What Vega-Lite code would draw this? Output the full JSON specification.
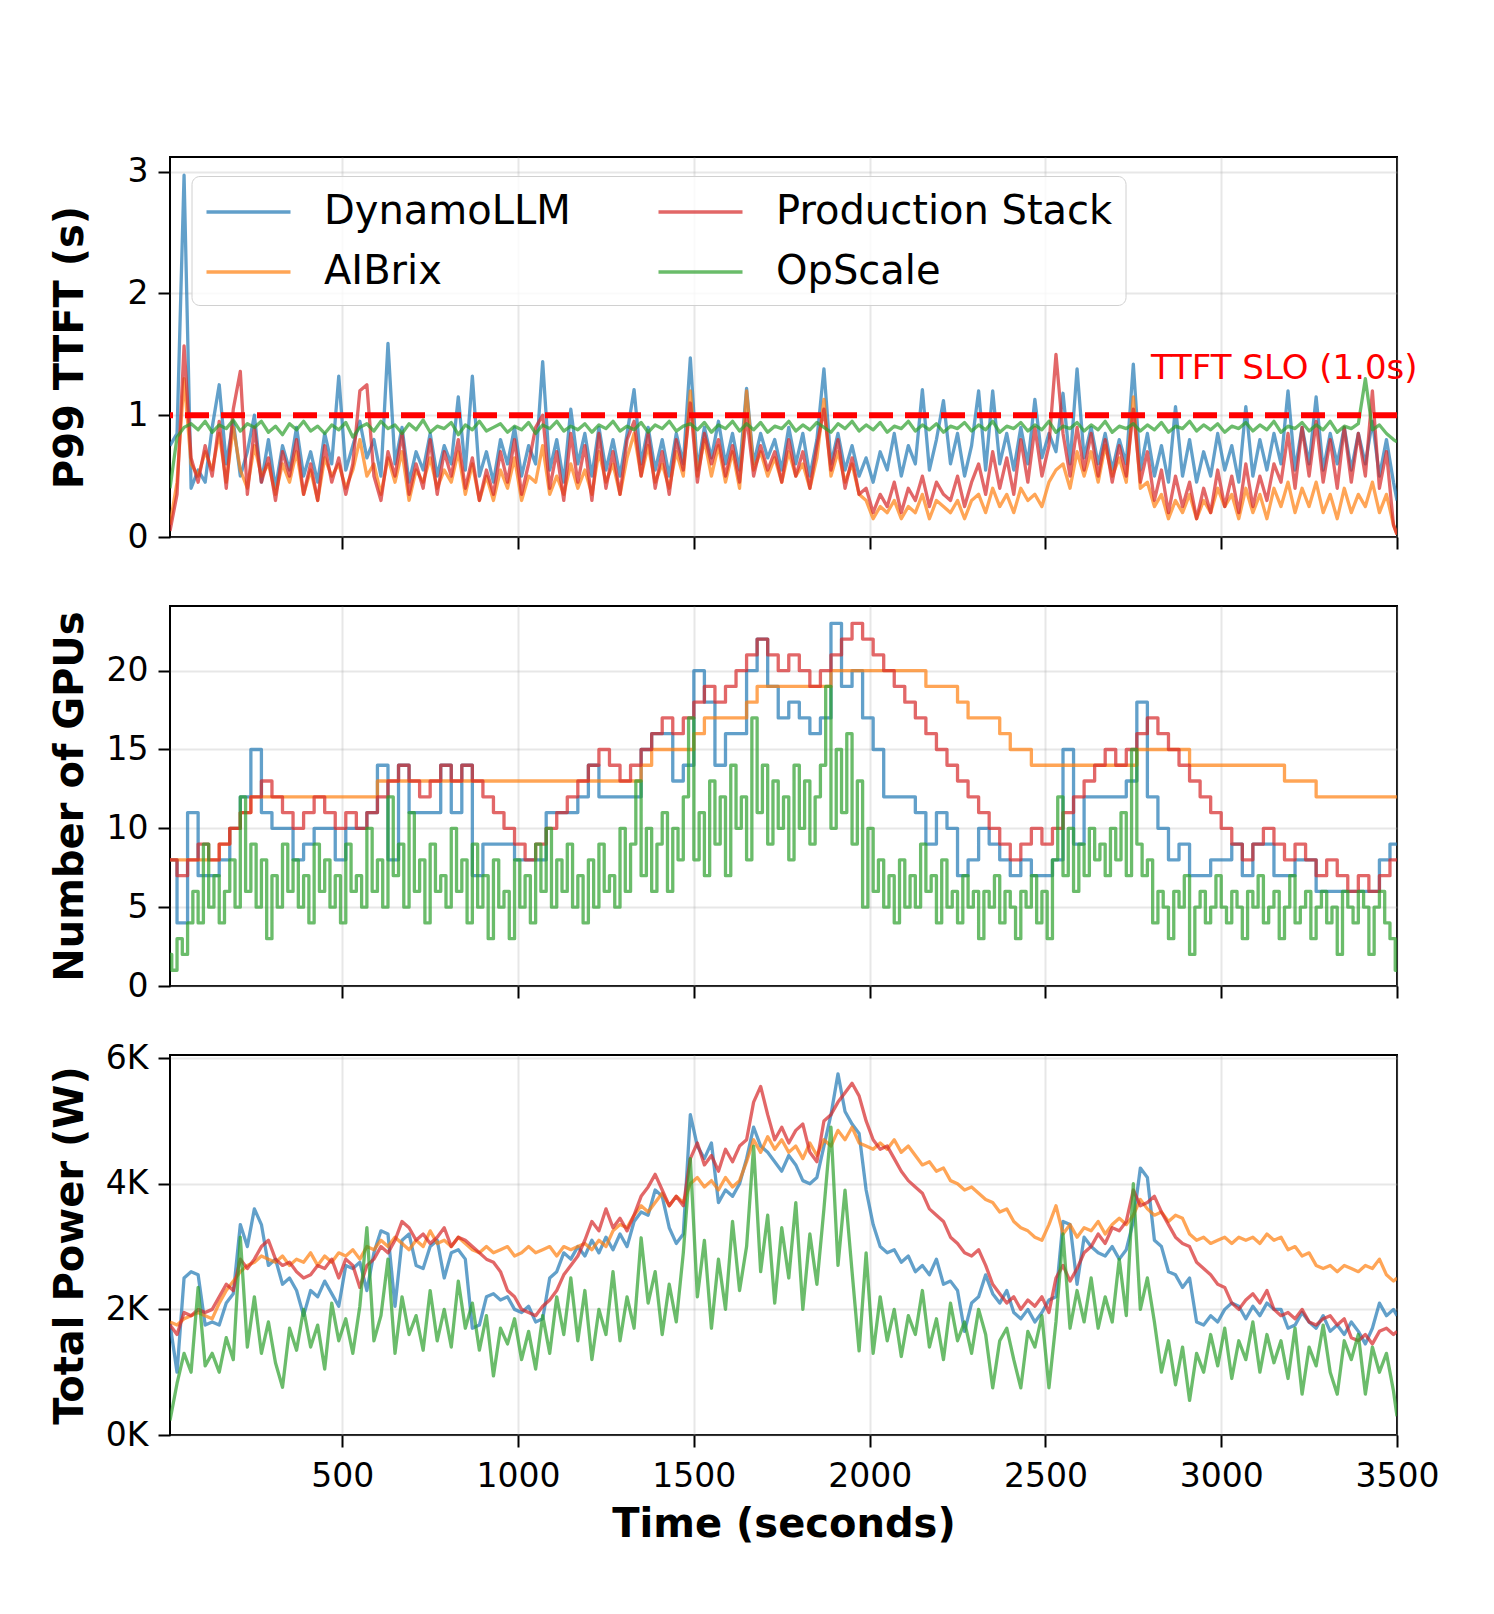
{
  "$schema": "https://vega.github.io/schema/vega-lite/v6.json",
  "padding": {"left": 48, "top": 154, "right": 20, "bottom": 20},
  "config": {
    "font": "DejaVu Sans",
    "view": {"stroke": "#000000", "strokeWidth": 2},
    "axis": {
      "labelFont": "DejaVu Sans", "labelFontSize": 33, "labelColor": "#000000", "labelFlush": false,
      "tickColor": "#000000", "tickWidth": 2, "tickSize": 12, "domain": false,
      "gridColor": "#b0b0b0", "gridOpacity": 0.3, "gridWidth": 2,
      "titleFont": "DejaVu Sans", "titleFontSize": 40, "titleFontWeight": "bold", "titleColor": "#000000"
    },
    "axisX": {"labelPadding": 13, "format": "d"},
    "axisY": {"labelPadding": 10, "format": "d"},
    "line": {"strokeWidth": 3.3, "opacity": 0.7, "strokeJoin": "round"}
  },
  "datasets": {
    "ttft": [
      {"t":10,"D":0.75,"A":0.1,"P":0.05,"O":0.4},
      {"t":30,"D":0.85,"A":0.45,"P":0.35,"O":0.82},
      {"t":50,"D":2.97,"A":1.3,"P":1.57,"O":0.9},
      {"t":70,"D":0.4,"A":0.6,"P":0.65,"O":0.93},
      {"t":90,"D":0.55,"A":0.5,"P":0.45,"O":0.88},
      {"t":110,"D":0.45,"A":0.7,"P":0.75,"O":0.95},
      {"t":130,"D":0.9,"A":0.55,"P":0.5,"O":0.86},
      {"t":150,"D":1.25,"A":0.85,"P":0.95,"O":0.92},
      {"t":170,"D":0.6,"A":0.45,"P":0.4,"O":0.89},
      {"t":190,"D":0.95,"A":0.9,"P":1.05,"O":0.96},
      {"t":210,"D":0.5,"A":0.55,"P":1.36,"O":0.87},
      {"t":230,"D":0.7,"A":0.4,"P":0.35,"O":0.93},
      {"t":250,"D":1.0,"A":0.75,"P":0.9,"O":0.9},
      {"t":270,"D":0.45,"A":0.5,"P":0.45,"O":0.95},
      {"t":290,"D":0.8,"A":0.6,"P":0.65,"O":0.86},
      {"t":310,"D":0.4,"A":0.35,"P":0.3,"O":0.91},
      {"t":330,"D":0.75,"A":0.6,"P":0.7,"O":0.84},
      {"t":350,"D":0.55,"A":0.45,"P":0.5,"O":0.93},
      {"t":370,"D":0.9,"A":0.7,"P":0.8,"O":0.88},
      {"t":390,"D":0.5,"A":0.35,"P":0.35,"O":0.95},
      {"t":410,"D":0.7,"A":0.55,"P":0.6,"O":0.87},
      {"t":430,"D":0.45,"A":0.3,"P":0.3,"O":0.91},
      {"t":450,"D":0.85,"A":0.65,"P":0.75,"O":0.85},
      {"t":470,"D":0.6,"A":0.5,"P":0.45,"O":0.92},
      {"t":490,"D":1.32,"A":0.6,"P":0.65,"O":0.88},
      {"t":510,"D":0.55,"A":0.4,"P":0.35,"O":0.94},
      {"t":530,"D":0.75,"A":0.55,"P":0.6,"O":0.82},
      {"t":550,"D":0.95,"A":0.8,"P":1.2,"O":0.9},
      {"t":570,"D":0.65,"A":0.5,"P":1.25,"O":0.93},
      {"t":590,"D":0.8,"A":0.6,"P":0.5,"O":0.87},
      {"t":610,"D":0.5,"A":0.35,"P":0.3,"O":0.95},
      {"t":630,"D":1.59,"A":0.65,"P":0.7,"O":0.89},
      {"t":650,"D":0.6,"A":0.45,"P":0.5,"O":0.92},
      {"t":670,"D":0.9,"A":0.7,"P":0.85,"O":0.85},
      {"t":690,"D":0.45,"A":0.3,"P":0.35,"O":0.93},
      {"t":710,"D":0.7,"A":0.55,"P":0.6,"O":0.88},
      {"t":730,"D":0.55,"A":0.45,"P":0.4,"O":0.96},
      {"t":750,"D":0.85,"A":0.65,"P":0.8,"O":0.86},
      {"t":770,"D":0.5,"A":0.4,"P":0.35,"O":0.91},
      {"t":790,"D":0.75,"A":0.55,"P":0.7,"O":0.89},
      {"t":810,"D":0.6,"A":0.45,"P":0.5,"O":0.94},
      {"t":830,"D":1.15,"A":0.7,"P":0.8,"O":0.84},
      {"t":850,"D":0.55,"A":0.35,"P":0.4,"O":0.92},
      {"t":870,"D":1.32,"A":0.6,"P":0.65,"O":0.88},
      {"t":890,"D":0.5,"A":0.3,"P":0.3,"O":0.95},
      {"t":910,"D":0.7,"A":0.5,"P":0.55,"O":0.87},
      {"t":930,"D":0.45,"A":0.3,"P":0.35,"O":0.9},
      {"t":950,"D":0.8,"A":0.55,"P":0.7,"O":0.93},
      {"t":970,"D":0.6,"A":0.4,"P":0.45,"O":0.86},
      {"t":990,"D":0.9,"A":0.65,"P":0.8,"O":0.91},
      {"t":1010,"D":0.5,"A":0.3,"P":0.35,"O":0.88},
      {"t":1030,"D":0.75,"A":0.5,"P":0.6,"O":0.94},
      {"t":1050,"D":0.6,"A":0.45,"P":0.9,"O":0.85},
      {"t":1070,"D":1.44,"A":0.75,"P":1.0,"O":0.92},
      {"t":1090,"D":0.55,"A":0.35,"P":0.4,"O":0.89},
      {"t":1110,"D":0.8,"A":0.5,"P":0.7,"O":0.95},
      {"t":1130,"D":0.45,"A":0.35,"P":0.3,"O":0.87},
      {"t":1150,"D":1.05,"A":0.6,"P":0.85,"O":0.91},
      {"t":1170,"D":0.6,"A":0.4,"P":0.45,"O":0.88},
      {"t":1190,"D":0.85,"A":0.55,"P":0.75,"O":0.93},
      {"t":1210,"D":0.5,"A":0.35,"P":0.3,"O":0.86},
      {"t":1230,"D":0.9,"A":0.7,"P":0.85,"O":0.92},
      {"t":1250,"D":0.55,"A":0.45,"P":0.4,"O":0.89},
      {"t":1270,"D":0.8,"A":0.6,"P":0.7,"O":0.95},
      {"t":1290,"D":0.5,"A":0.35,"P":0.35,"O":0.87},
      {"t":1310,"D":0.85,"A":0.65,"P":0.8,"O":0.91},
      {"t":1330,"D":1.21,"A":0.85,"P":0.95,"O":0.88},
      {"t":1350,"D":0.6,"A":0.5,"P":0.5,"O":0.94},
      {"t":1370,"D":0.9,"A":0.75,"P":0.85,"O":0.86},
      {"t":1390,"D":0.55,"A":0.45,"P":0.4,"O":0.92},
      {"t":1410,"D":0.8,"A":0.6,"P":0.7,"O":0.89},
      {"t":1430,"D":0.5,"A":0.4,"P":0.35,"O":0.95},
      {"t":1450,"D":0.85,"A":0.7,"P":0.8,"O":0.87},
      {"t":1470,"D":0.6,"A":0.5,"P":0.55,"O":0.91},
      {"t":1490,"D":1.47,"A":1.2,"P":1.1,"O":0.93},
      {"t":1510,"D":0.55,"A":0.5,"P":0.45,"O":0.88},
      {"t":1530,"D":0.9,"A":0.8,"P":0.85,"O":0.94},
      {"t":1550,"D":0.65,"A":0.5,"P":0.6,"O":0.86},
      {"t":1570,"D":0.95,"A":0.75,"P":0.8,"O":0.92},
      {"t":1590,"D":0.6,"A":0.45,"P":0.5,"O":0.89},
      {"t":1610,"D":0.85,"A":0.7,"P":0.75,"O":0.95},
      {"t":1630,"D":0.55,"A":0.4,"P":0.45,"O":0.87},
      {"t":1650,"D":1.22,"A":1.2,"P":1.0,"O":0.93},
      {"t":1670,"D":0.6,"A":0.55,"P":0.5,"O":0.88},
      {"t":1690,"D":0.85,"A":0.7,"P":0.75,"O":0.94},
      {"t":1710,"D":0.65,"A":0.5,"P":0.55,"O":0.86},
      {"t":1730,"D":0.8,"A":0.65,"P":0.7,"O":0.91},
      {"t":1750,"D":0.55,"A":0.45,"P":0.45,"O":0.89},
      {"t":1770,"D":0.9,"A":0.7,"P":0.8,"O":0.95},
      {"t":1790,"D":0.6,"A":0.5,"P":0.5,"O":0.87},
      {"t":1810,"D":0.85,"A":0.6,"P":0.7,"O":0.92},
      {"t":1830,"D":0.5,"A":0.4,"P":0.4,"O":0.88},
      {"t":1850,"D":0.8,"A":0.65,"P":0.75,"O":0.94},
      {"t":1870,"D":1.38,"A":1.13,"P":1.05,"O":0.9},
      {"t":1890,"D":0.6,"A":0.5,"P":0.55,"O":0.86},
      {"t":1910,"D":0.85,"A":0.7,"P":0.8,"O":0.93},
      {"t":1930,"D":0.55,"A":0.45,"P":0.4,"O":0.89},
      {"t":1950,"D":0.75,"A":0.6,"P":0.65,"O":0.95},
      {"t":1970,"D":0.5,"A":0.35,"P":0.35,"O":0.87},
      {"t":1990,"D":0.65,"A":0.3,"P":0.4,"O":0.92},
      {"t":2010,"D":0.45,"A":0.15,"P":0.2,"O":0.88},
      {"t":2030,"D":0.7,"A":0.25,"P":0.35,"O":0.94},
      {"t":2050,"D":0.55,"A":0.2,"P":0.25,"O":0.86},
      {"t":2070,"D":0.85,"A":0.3,"P":0.45,"O":0.91},
      {"t":2090,"D":0.5,"A":0.15,"P":0.2,"O":0.89},
      {"t":2110,"D":0.75,"A":0.25,"P":0.4,"O":0.95},
      {"t":2130,"D":0.6,"A":0.2,"P":0.3,"O":0.87},
      {"t":2150,"D":1.21,"A":0.35,"P":0.5,"O":0.92},
      {"t":2170,"D":0.55,"A":0.15,"P":0.25,"O":0.88},
      {"t":2190,"D":0.8,"A":0.3,"P":0.45,"O":0.93},
      {"t":2210,"D":1.12,"A":0.25,"P":0.35,"O":0.86},
      {"t":2230,"D":0.6,"A":0.2,"P":0.3,"O":0.91},
      {"t":2250,"D":0.85,"A":0.3,"P":0.5,"O":0.89},
      {"t":2270,"D":0.5,"A":0.15,"P":0.25,"O":0.94},
      {"t":2290,"D":0.75,"A":0.3,"P":0.45,"O":0.87},
      {"t":2310,"D":1.2,"A":0.35,"P":0.6,"O":0.92},
      {"t":2330,"D":0.55,"A":0.2,"P":0.35,"O":0.88},
      {"t":2350,"D":1.2,"A":0.4,"P":0.7,"O":0.95},
      {"t":2370,"D":0.6,"A":0.25,"P":0.4,"O":0.86},
      {"t":2390,"D":0.85,"A":0.35,"P":0.65,"O":0.91},
      {"t":2410,"D":0.55,"A":0.2,"P":0.35,"O":0.89},
      {"t":2430,"D":0.9,"A":0.4,"P":0.8,"O":0.94},
      {"t":2450,"D":0.6,"A":0.3,"P":0.45,"O":0.87},
      {"t":2470,"D":1.13,"A":0.35,"P":0.9,"O":0.92},
      {"t":2490,"D":0.65,"A":0.25,"P":0.5,"O":0.88},
      {"t":2510,"D":0.85,"A":0.45,"P":0.75,"O":0.95},
      {"t":2530,"D":0.7,"A":0.55,"P":1.5,"O":0.86},
      {"t":2550,"D":1.18,"A":0.6,"P":0.85,"O":0.91},
      {"t":2570,"D":0.6,"A":0.4,"P":0.5,"O":0.89},
      {"t":2590,"D":1.38,"A":0.7,"P":0.9,"O":0.94},
      {"t":2610,"D":0.65,"A":0.5,"P":0.55,"O":0.87},
      {"t":2630,"D":0.9,"A":0.7,"P":0.85,"O":0.92},
      {"t":2650,"D":0.6,"A":0.45,"P":0.5,"O":0.88},
      {"t":2670,"D":0.85,"A":0.75,"P":0.8,"O":0.95},
      {"t":2690,"D":0.55,"A":0.5,"P":0.45,"O":0.86},
      {"t":2710,"D":0.8,"A":0.65,"P":0.75,"O":0.91},
      {"t":2730,"D":0.6,"A":0.45,"P":0.5,"O":0.89},
      {"t":2750,"D":1.42,"A":1.15,"P":1.05,"O":0.93},
      {"t":2770,"D":0.55,"A":0.4,"P":0.45,"O":0.87},
      {"t":2790,"D":0.85,"A":0.45,"P":0.7,"O":0.92},
      {"t":2810,"D":0.5,"A":0.25,"P":0.3,"O":0.88},
      {"t":2830,"D":0.75,"A":0.35,"P":0.55,"O":0.94},
      {"t":2850,"D":0.45,"A":0.15,"P":0.2,"O":0.86},
      {"t":2870,"D":1.07,"A":0.3,"P":0.5,"O":0.91},
      {"t":2890,"D":0.5,"A":0.2,"P":0.25,"O":0.89},
      {"t":2910,"D":0.8,"A":0.35,"P":0.45,"O":0.95},
      {"t":2930,"D":0.45,"A":0.15,"P":0.15,"O":0.87},
      {"t":2950,"D":0.7,"A":0.3,"P":0.4,"O":0.92},
      {"t":2970,"D":0.5,"A":0.2,"P":0.2,"O":0.88},
      {"t":2990,"D":0.85,"A":0.4,"P":0.55,"O":0.93},
      {"t":3010,"D":0.55,"A":0.25,"P":0.25,"O":0.86},
      {"t":3030,"D":0.75,"A":0.35,"P":0.5,"O":0.91},
      {"t":3050,"D":0.45,"A":0.15,"P":0.2,"O":0.89},
      {"t":3070,"D":1.07,"A":0.4,"P":0.6,"O":0.94},
      {"t":3090,"D":0.5,"A":0.2,"P":0.25,"O":0.87},
      {"t":3110,"D":0.8,"A":0.35,"P":0.5,"O":0.92},
      {"t":3130,"D":0.55,"A":0.15,"P":0.3,"O":0.88},
      {"t":3150,"D":0.85,"A":0.4,"P":0.6,"O":0.95},
      {"t":3170,"D":0.6,"A":0.25,"P":0.45,"O":0.86},
      {"t":3190,"D":1.2,"A":0.45,"P":0.85,"O":0.91},
      {"t":3210,"D":0.55,"A":0.2,"P":0.4,"O":0.89},
      {"t":3230,"D":0.9,"A":0.4,"P":0.9,"O":0.94},
      {"t":3250,"D":0.6,"A":0.25,"P":0.5,"O":0.87},
      {"t":3270,"D":1.15,"A":0.45,"P":0.95,"O":0.92},
      {"t":3290,"D":0.55,"A":0.2,"P":0.45,"O":0.88},
      {"t":3310,"D":0.85,"A":0.35,"P":0.8,"O":0.95},
      {"t":3330,"D":0.6,"A":0.15,"P":0.4,"O":0.86},
      {"t":3350,"D":0.9,"A":0.4,"P":0.9,"O":0.91},
      {"t":3370,"D":0.55,"A":0.2,"P":0.45,"O":0.89},
      {"t":3390,"D":0.85,"A":0.35,"P":0.85,"O":0.93},
      {"t":3410,"D":0.6,"A":0.25,"P":0.5,"O":1.3},
      {"t":3430,"D":0.95,"A":0.45,"P":1.2,"O":0.88},
      {"t":3450,"D":0.5,"A":0.2,"P":0.4,"O":0.92},
      {"t":3470,"D":0.8,"A":0.35,"P":0.7,"O":0.85},
      {"t":3490,"D":0.45,"A":0.1,"P":0.1,"O":0.8},
      {"t":3500,"D":0.3,"A":0.02,"P":0.02,"O":0.78}
    ],
    "gpu": [
      {"t":10,"D":8,"A":8,"P":8,"O":2},{"t":15,"D":8,"A":8,"P":8,"O":1},
      {"t":30,"D":4,"A":8,"P":7,"O":3},{"t":45,"D":4,"A":8,"P":7,"O":2},
      {"t":60,"D":11,"A":8,"P":8,"O":4},{"t":75,"D":11,"A":8,"P":8,"O":6},
      {"t":90,"D":7,"A":8,"P":9,"O":4},{"t":105,"D":7,"A":8,"P":9,"O":9},
      {"t":120,"D":7,"A":8,"P":8,"O":5},{"t":135,"D":7,"A":8,"P":8,"O":7},
      {"t":150,"D":8,"A":9,"P":9,"O":4},{"t":165,"D":8,"A":9,"P":9,"O":6},
      {"t":180,"D":10,"A":10,"P":10,"O":8},{"t":195,"D":10,"A":10,"P":10,"O":5},
      {"t":210,"D":12,"A":11,"P":11,"O":12},{"t":225,"D":12,"A":11,"P":11,"O":6},
      {"t":240,"D":15,"A":12,"P":12,"O":9},{"t":255,"D":15,"A":12,"P":12,"O":5},
      {"t":270,"D":11,"A":12,"P":13,"O":8},{"t":285,"D":11,"A":12,"P":13,"O":3},
      {"t":300,"D":10,"A":12,"P":12,"O":7},{"t":315,"D":10,"A":12,"P":12,"O":5},
      {"t":330,"D":10,"A":12,"P":11,"O":9},{"t":345,"D":10,"A":12,"P":11,"O":6},
      {"t":360,"D":8,"A":12,"P":10,"O":8},{"t":375,"D":8,"A":12,"P":10,"O":5},
      {"t":390,"D":9,"A":12,"P":11,"O":7},{"t":405,"D":9,"A":12,"P":11,"O":4},
      {"t":420,"D":10,"A":12,"P":12,"O":9},{"t":435,"D":10,"A":12,"P":12,"O":6},
      {"t":450,"D":10,"A":12,"P":11,"O":8},{"t":465,"D":10,"A":12,"P":11,"O":5},
      {"t":480,"D":8,"A":12,"P":10,"O":7},{"t":495,"D":8,"A":12,"P":10,"O":4},
      {"t":510,"D":10,"A":12,"P":11,"O":9},{"t":525,"D":10,"A":12,"P":11,"O":6},
      {"t":540,"D":10,"A":12,"P":10,"O":7},{"t":555,"D":10,"A":12,"P":10,"O":5},
      {"t":570,"D":11,"A":12,"P":11,"O":10},{"t":585,"D":11,"A":12,"P":11,"O":6},
      {"t":600,"D":14,"A":13,"P":12,"O":8},{"t":615,"D":14,"A":13,"P":12,"O":5},
      {"t":630,"D":8,"A":13,"P":13,"O":12},{"t":645,"D":8,"A":13,"P":13,"O":7},
      {"t":660,"D":14,"A":13,"P":14,"O":9},{"t":675,"D":14,"A":13,"P":14,"O":5},
      {"t":690,"D":11,"A":13,"P":13,"O":11},{"t":705,"D":11,"A":13,"P":13,"O":6},
      {"t":720,"D":11,"A":13,"P":12,"O":8},{"t":735,"D":11,"A":13,"P":12,"O":4},
      {"t":750,"D":11,"A":13,"P":13,"O":9},{"t":765,"D":11,"A":13,"P":13,"O":6},
      {"t":780,"D":14,"A":13,"P":14,"O":7},{"t":795,"D":14,"A":13,"P":14,"O":5},
      {"t":810,"D":11,"A":13,"P":13,"O":10},{"t":825,"D":11,"A":13,"P":13,"O":6},
      {"t":840,"D":14,"A":13,"P":14,"O":8},{"t":855,"D":14,"A":13,"P":14,"O":4},
      {"t":870,"D":7,"A":13,"P":13,"O":9},{"t":885,"D":7,"A":13,"P":13,"O":5},
      {"t":900,"D":9,"A":13,"P":12,"O":7},{"t":915,"D":9,"A":13,"P":12,"O":3},
      {"t":930,"D":9,"A":13,"P":11,"O":8},{"t":945,"D":9,"A":13,"P":11,"O":5},
      {"t":960,"D":9,"A":13,"P":10,"O":6},{"t":975,"D":9,"A":13,"P":10,"O":3},
      {"t":990,"D":8,"A":13,"P":9,"O":8},{"t":1005,"D":8,"A":13,"P":9,"O":5},
      {"t":1020,"D":8,"A":13,"P":8,"O":7},{"t":1035,"D":8,"A":13,"P":8,"O":4},
      {"t":1050,"D":8,"A":13,"P":9,"O":9},{"t":1065,"D":8,"A":13,"P":9,"O":6},
      {"t":1080,"D":11,"A":13,"P":10,"O":10},{"t":1095,"D":11,"A":13,"P":10,"O":5},
      {"t":1110,"D":11,"A":13,"P":11,"O":8},{"t":1125,"D":11,"A":13,"P":11,"O":6},
      {"t":1140,"D":11,"A":13,"P":12,"O":9},{"t":1155,"D":11,"A":13,"P":12,"O":5},
      {"t":1170,"D":12,"A":13,"P":13,"O":7},{"t":1185,"D":12,"A":13,"P":13,"O":4},
      {"t":1200,"D":14,"A":13,"P":14,"O":8},{"t":1215,"D":14,"A":13,"P":14,"O":5},
      {"t":1230,"D":12,"A":13,"P":15,"O":9},{"t":1245,"D":12,"A":13,"P":15,"O":6},
      {"t":1260,"D":12,"A":13,"P":14,"O":7},{"t":1275,"D":12,"A":13,"P":14,"O":5},
      {"t":1290,"D":12,"A":13,"P":13,"O":10},{"t":1305,"D":12,"A":13,"P":13,"O":6},
      {"t":1320,"D":12,"A":13,"P":14,"O":9},{"t":1335,"D":12,"A":13,"P":14,"O":13},
      {"t":1350,"D":15,"A":14,"P":15,"O":7},{"t":1365,"D":15,"A":14,"P":15,"O":10},
      {"t":1380,"D":16,"A":15,"P":16,"O":6},{"t":1395,"D":16,"A":15,"P":16,"O":9},
      {"t":1410,"D":16,"A":15,"P":17,"O":11},{"t":1425,"D":16,"A":15,"P":17,"O":6},
      {"t":1440,"D":13,"A":15,"P":16,"O":10},{"t":1455,"D":13,"A":15,"P":16,"O":8},
      {"t":1470,"D":14,"A":15,"P":17,"O":12},{"t":1485,"D":14,"A":15,"P":17,"O":17},
      {"t":1500,"D":20,"A":16,"P":18,"O":8},{"t":1515,"D":20,"A":16,"P":18,"O":11},
      {"t":1530,"D":18,"A":17,"P":19,"O":7},{"t":1545,"D":18,"A":17,"P":19,"O":13},
      {"t":1560,"D":14,"A":17,"P":18,"O":9},{"t":1575,"D":14,"A":17,"P":18,"O":12},
      {"t":1590,"D":16,"A":17,"P":19,"O":7},{"t":1605,"D":16,"A":17,"P":19,"O":14},
      {"t":1620,"D":16,"A":17,"P":20,"O":10},{"t":1635,"D":16,"A":17,"P":20,"O":12},
      {"t":1650,"D":20,"A":18,"P":21,"O":8},{"t":1665,"D":20,"A":18,"P":21,"O":17},
      {"t":1680,"D":22,"A":19,"P":22,"O":11},{"t":1695,"D":22,"A":19,"P":22,"O":14},
      {"t":1710,"D":19,"A":19,"P":21,"O":9},{"t":1725,"D":19,"A":19,"P":21,"O":13},
      {"t":1740,"D":17,"A":19,"P":20,"O":10},{"t":1755,"D":17,"A":19,"P":20,"O":12},
      {"t":1770,"D":18,"A":19,"P":21,"O":8},{"t":1785,"D":18,"A":19,"P":21,"O":14},
      {"t":1800,"D":17,"A":19,"P":20,"O":10},{"t":1815,"D":17,"A":19,"P":20,"O":13},
      {"t":1830,"D":16,"A":19,"P":19,"O":9},{"t":1845,"D":16,"A":19,"P":19,"O":12},
      {"t":1860,"D":17,"A":19,"P":20,"O":14},{"t":1875,"D":17,"A":19,"P":20,"O":19},
      {"t":1890,"D":23,"A":20,"P":21,"O":10},{"t":1905,"D":23,"A":20,"P":21,"O":15},
      {"t":1920,"D":19,"A":20,"P":22,"O":11},{"t":1935,"D":19,"A":20,"P":22,"O":16},
      {"t":1950,"D":20,"A":20,"P":23,"O":9},{"t":1965,"D":20,"A":20,"P":23,"O":13},
      {"t":1980,"D":17,"A":20,"P":22,"O":5},{"t":1995,"D":17,"A":20,"P":22,"O":10},
      {"t":2010,"D":15,"A":20,"P":21,"O":6},{"t":2025,"D":15,"A":20,"P":21,"O":8},
      {"t":2040,"D":12,"A":20,"P":20,"O":5},{"t":2055,"D":12,"A":20,"P":20,"O":7},
      {"t":2070,"D":12,"A":20,"P":19,"O":4},{"t":2085,"D":12,"A":20,"P":19,"O":8},
      {"t":2100,"D":12,"A":20,"P":18,"O":5},{"t":2115,"D":12,"A":20,"P":18,"O":7},
      {"t":2130,"D":11,"A":20,"P":17,"O":5},{"t":2145,"D":11,"A":20,"P":17,"O":9},
      {"t":2160,"D":9,"A":19,"P":16,"O":6},{"t":2175,"D":9,"A":19,"P":16,"O":7},
      {"t":2190,"D":11,"A":19,"P":15,"O":4},{"t":2205,"D":11,"A":19,"P":15,"O":8},
      {"t":2220,"D":10,"A":19,"P":14,"O":5},{"t":2235,"D":10,"A":19,"P":14,"O":6},
      {"t":2250,"D":7,"A":18,"P":13,"O":4},{"t":2265,"D":7,"A":18,"P":13,"O":7},
      {"t":2280,"D":8,"A":17,"P":12,"O":5},{"t":2295,"D":8,"A":17,"P":12,"O":6},
      {"t":2310,"D":10,"A":17,"P":11,"O":3},{"t":2325,"D":10,"A":17,"P":11,"O":6},
      {"t":2340,"D":9,"A":17,"P":10,"O":5},{"t":2355,"D":9,"A":17,"P":10,"O":7},
      {"t":2370,"D":8,"A":16,"P":9,"O":4},{"t":2385,"D":8,"A":16,"P":9,"O":6},
      {"t":2400,"D":7,"A":15,"P":8,"O":5},{"t":2415,"D":7,"A":15,"P":8,"O":3},
      {"t":2430,"D":8,"A":15,"P":9,"O":6},{"t":2445,"D":8,"A":15,"P":9,"O":5},
      {"t":2460,"D":7,"A":14,"P":10,"O":7},{"t":2475,"D":7,"A":14,"P":10,"O":4},
      {"t":2490,"D":7,"A":14,"P":9,"O":6},{"t":2505,"D":7,"A":14,"P":9,"O":3},
      {"t":2520,"D":8,"A":14,"P":10,"O":8},{"t":2535,"D":8,"A":14,"P":10,"O":12},
      {"t":2550,"D":15,"A":14,"P":11,"O":7},{"t":2565,"D":15,"A":14,"P":11,"O":10},
      {"t":2580,"D":9,"A":14,"P":12,"O":6},{"t":2595,"D":9,"A":14,"P":12,"O":9},
      {"t":2610,"D":12,"A":14,"P":13,"O":7},{"t":2625,"D":12,"A":14,"P":13,"O":10},
      {"t":2640,"D":12,"A":14,"P":14,"O":8},{"t":2655,"D":12,"A":14,"P":14,"O":9},
      {"t":2670,"D":12,"A":14,"P":15,"O":7},{"t":2685,"D":12,"A":14,"P":15,"O":10},
      {"t":2700,"D":12,"A":14,"P":14,"O":8},{"t":2715,"D":12,"A":14,"P":14,"O":11},
      {"t":2730,"D":13,"A":14,"P":15,"O":7},{"t":2745,"D":13,"A":14,"P":15,"O":15},
      {"t":2760,"D":18,"A":15,"P":16,"O":9},{"t":2775,"D":18,"A":15,"P":16,"O":7},
      {"t":2790,"D":12,"A":15,"P":17,"O":8},{"t":2805,"D":12,"A":15,"P":17,"O":4},
      {"t":2820,"D":10,"A":15,"P":16,"O":6},{"t":2835,"D":10,"A":15,"P":16,"O":5},
      {"t":2850,"D":8,"A":15,"P":15,"O":3},{"t":2865,"D":8,"A":15,"P":15,"O":6},
      {"t":2880,"D":9,"A":15,"P":14,"O":5},{"t":2895,"D":9,"A":15,"P":14,"O":7},
      {"t":2910,"D":7,"A":14,"P":13,"O":2},{"t":2925,"D":7,"A":14,"P":13,"O":5},
      {"t":2940,"D":7,"A":14,"P":12,"O":6},{"t":2955,"D":7,"A":14,"P":12,"O":4},
      {"t":2970,"D":8,"A":14,"P":11,"O":5},{"t":2985,"D":8,"A":14,"P":11,"O":7},
      {"t":3000,"D":8,"A":14,"P":10,"O":5},{"t":3015,"D":8,"A":14,"P":10,"O":4},
      {"t":3030,"D":9,"A":14,"P":9,"O":6},{"t":3045,"D":9,"A":14,"P":9,"O":5},
      {"t":3060,"D":7,"A":14,"P":8,"O":3},{"t":3075,"D":7,"A":14,"P":8,"O":6},
      {"t":3090,"D":9,"A":14,"P":9,"O":5},{"t":3105,"D":9,"A":14,"P":9,"O":7},
      {"t":3120,"D":9,"A":14,"P":10,"O":4},{"t":3135,"D":9,"A":14,"P":10,"O":5},
      {"t":3150,"D":7,"A":14,"P":9,"O":6},{"t":3165,"D":7,"A":14,"P":9,"O":3},
      {"t":3180,"D":7,"A":13,"P":8,"O":5},{"t":3195,"D":7,"A":13,"P":8,"O":7},
      {"t":3210,"D":8,"A":13,"P":9,"O":4},{"t":3225,"D":8,"A":13,"P":9,"O":5},
      {"t":3240,"D":8,"A":13,"P":8,"O":6},{"t":3255,"D":8,"A":13,"P":8,"O":3},
      {"t":3270,"D":6,"A":12,"P":7,"O":5},{"t":3285,"D":6,"A":12,"P":7,"O":6},
      {"t":3300,"D":6,"A":12,"P":8,"O":4},{"t":3315,"D":6,"A":12,"P":8,"O":5},
      {"t":3330,"D":6,"A":12,"P":7,"O":2},{"t":3345,"D":6,"A":12,"P":7,"O":6},
      {"t":3360,"D":6,"A":12,"P":6,"O":5},{"t":3375,"D":6,"A":12,"P":6,"O":4},
      {"t":3390,"D":6,"A":12,"P":7,"O":6},{"t":3405,"D":6,"A":12,"P":7,"O":5},
      {"t":3420,"D":6,"A":12,"P":6,"O":2},{"t":3435,"D":6,"A":12,"P":6,"O":5},
      {"t":3450,"D":8,"A":12,"P":7,"O":6},{"t":3465,"D":8,"A":12,"P":7,"O":4},
      {"t":3480,"D":9,"A":12,"P":8,"O":3},{"t":3495,"D":9,"A":12,"P":8,"O":1},
      {"t":3500,"D":9,"A":12,"P":8,"O":1}
    ],
    "power": [
      {"t":10,"D":1770,"A":1800,"P":1750,"O":230},
      {"t":30,"D":1000,"A":1750,"P":1600,"O":820},
      {"t":50,"D":2500,"A":1850,"P":1950,"O":1300},
      {"t":70,"D":2600,"A":1900,"P":1900,"O":1000},
      {"t":90,"D":2550,"A":1950,"P":2000,"O":2350},
      {"t":110,"D":1750,"A":1900,"P":1950,"O":1100},
      {"t":130,"D":1800,"A":1850,"P":2000,"O":1300},
      {"t":150,"D":1750,"A":2100,"P":2200,"O":1000},
      {"t":170,"D":2100,"A":2300,"P":2400,"O":1550},
      {"t":190,"D":2250,"A":2450,"P":2300,"O":1200},
      {"t":210,"D":3350,"A":2600,"P":2800,"O":3150},
      {"t":230,"D":3000,"A":2700,"P":2650,"O":1400},
      {"t":250,"D":3600,"A":2750,"P":2800,"O":2200},
      {"t":270,"D":3350,"A":2850,"P":3000,"O":1300},
      {"t":290,"D":2700,"A":2800,"P":3100,"O":1800},
      {"t":310,"D":2800,"A":2750,"P":2800,"O":1150},
      {"t":330,"D":2400,"A":2850,"P":2700,"O":760},
      {"t":350,"D":2500,"A":2700,"P":2750,"O":1700},
      {"t":370,"D":2300,"A":2800,"P":2600,"O":1350},
      {"t":390,"D":1900,"A":2750,"P":2500,"O":2000},
      {"t":410,"D":2300,"A":2900,"P":2550,"O":1400},
      {"t":430,"D":2200,"A":2700,"P":2700,"O":1750},
      {"t":450,"D":2450,"A":2850,"P":2650,"O":1050},
      {"t":470,"D":2250,"A":2750,"P":2800,"O":2100},
      {"t":490,"D":2050,"A":2900,"P":2500,"O":1500},
      {"t":510,"D":2700,"A":2850,"P":2800,"O":1850},
      {"t":530,"D":2650,"A":2950,"P":2700,"O":1300},
      {"t":550,"D":2750,"A":2800,"P":2350,"O":2050},
      {"t":570,"D":2300,"A":3000,"P":2700,"O":3300},
      {"t":590,"D":2900,"A":2950,"P":2800,"O":1500},
      {"t":610,"D":3250,"A":3100,"P":3000,"O":1900},
      {"t":630,"D":3200,"A":3000,"P":2900,"O":2800},
      {"t":650,"D":2050,"A":3150,"P":3100,"O":1300},
      {"t":670,"D":3100,"A":3050,"P":3400,"O":2200},
      {"t":690,"D":3200,"A":2950,"P":3300,"O":1600},
      {"t":710,"D":2700,"A":3100,"P":3100,"O":1900},
      {"t":730,"D":2650,"A":3000,"P":3200,"O":1350},
      {"t":750,"D":3000,"A":3250,"P":3050,"O":2300},
      {"t":770,"D":3100,"A":3050,"P":3150,"O":1500},
      {"t":790,"D":2500,"A":3100,"P":3300,"O":2000},
      {"t":810,"D":2900,"A":3000,"P":3000,"O":1400},
      {"t":830,"D":2950,"A":3150,"P":3150,"O":2450},
      {"t":850,"D":2800,"A":3050,"P":3100,"O":1700},
      {"t":870,"D":1700,"A":2950,"P":3000,"O":2100},
      {"t":890,"D":1750,"A":2900,"P":2900,"O":1350},
      {"t":910,"D":2200,"A":3000,"P":2800,"O":1900},
      {"t":930,"D":2250,"A":2900,"P":2750,"O":940},
      {"t":950,"D":2150,"A":2950,"P":2600,"O":1700},
      {"t":970,"D":2200,"A":3000,"P":2300,"O":1450},
      {"t":990,"D":2000,"A":2850,"P":2200,"O":1850},
      {"t":1010,"D":1950,"A":2900,"P":2000,"O":1200},
      {"t":1030,"D":2050,"A":3000,"P":1950,"O":1650},
      {"t":1050,"D":1800,"A":2900,"P":1900,"O":1050},
      {"t":1070,"D":1850,"A":2950,"P":2050,"O":1900},
      {"t":1090,"D":2500,"A":3000,"P":2150,"O":1300},
      {"t":1110,"D":2600,"A":2850,"P":2300,"O":2200},
      {"t":1130,"D":2900,"A":3000,"P":2550,"O":1600},
      {"t":1150,"D":2800,"A":2950,"P":2700,"O":2500},
      {"t":1170,"D":3000,"A":3000,"P":2850,"O":1500},
      {"t":1190,"D":2850,"A":3050,"P":3100,"O":2300},
      {"t":1210,"D":3100,"A":2950,"P":3400,"O":1200},
      {"t":1230,"D":2900,"A":3100,"P":3250,"O":2000},
      {"t":1250,"D":3150,"A":3000,"P":3600,"O":1600},
      {"t":1270,"D":2950,"A":3250,"P":3300,"O":2600},
      {"t":1290,"D":3200,"A":3350,"P":3450,"O":1500},
      {"t":1310,"D":3000,"A":3300,"P":3250,"O":2200},
      {"t":1330,"D":3400,"A":3500,"P":3500,"O":1700},
      {"t":1350,"D":3550,"A":3650,"P":3800,"O":3140},
      {"t":1370,"D":3500,"A":3550,"P":3950,"O":2100},
      {"t":1390,"D":3900,"A":3700,"P":4150,"O":2600},
      {"t":1410,"D":3800,"A":3850,"P":3900,"O":1600},
      {"t":1430,"D":3300,"A":3650,"P":3650,"O":2400},
      {"t":1450,"D":3050,"A":3800,"P":3800,"O":1800},
      {"t":1470,"D":3200,"A":3700,"P":3650,"O":2900},
      {"t":1490,"D":5100,"A":4000,"P":4400,"O":4400},
      {"t":1510,"D":4600,"A":4100,"P":4650,"O":2200},
      {"t":1530,"D":4400,"A":3950,"P":4300,"O":3100},
      {"t":1550,"D":4650,"A":4050,"P":4450,"O":1700},
      {"t":1570,"D":3700,"A":3900,"P":4200,"O":2800},
      {"t":1590,"D":3900,"A":4100,"P":4550,"O":2000},
      {"t":1610,"D":3800,"A":3950,"P":4350,"O":3400},
      {"t":1630,"D":4000,"A":4050,"P":4600,"O":2300},
      {"t":1650,"D":4400,"A":4350,"P":4700,"O":3000},
      {"t":1670,"D":4900,"A":4700,"P":5300,"O":4600},
      {"t":1690,"D":4600,"A":4500,"P":5550,"O":2600},
      {"t":1710,"D":4500,"A":4750,"P":5100,"O":3500},
      {"t":1730,"D":4350,"A":4550,"P":4700,"O":2100},
      {"t":1750,"D":4200,"A":4700,"P":4900,"O":3300},
      {"t":1770,"D":4450,"A":4500,"P":4650,"O":2500},
      {"t":1790,"D":4300,"A":4600,"P":4850,"O":3700},
      {"t":1810,"D":4050,"A":4400,"P":4950,"O":2000},
      {"t":1830,"D":4000,"A":4650,"P":4500,"O":3200},
      {"t":1850,"D":4100,"A":4450,"P":4350,"O":2400},
      {"t":1870,"D":4600,"A":4700,"P":5000,"O":3600},
      {"t":1890,"D":5100,"A":4600,"P":5100,"O":4900},
      {"t":1910,"D":5750,"A":4850,"P":5300,"O":2700},
      {"t":1930,"D":5150,"A":4700,"P":5450,"O":3900},
      {"t":1950,"D":4950,"A":4900,"P":5600,"O":2600},
      {"t":1970,"D":4800,"A":4650,"P":5400,"O":1340},
      {"t":1990,"D":3900,"A":4600,"P":5000,"O":2900},
      {"t":2010,"D":3350,"A":4550,"P":4700,"O":1300},
      {"t":2030,"D":3000,"A":4650,"P":4550,"O":2200},
      {"t":2050,"D":2900,"A":4550,"P":4600,"O":1500},
      {"t":2070,"D":2950,"A":4700,"P":4400,"O":2000},
      {"t":2090,"D":2750,"A":4500,"P":4200,"O":1250},
      {"t":2110,"D":2850,"A":4600,"P":4050,"O":1900},
      {"t":2130,"D":2600,"A":4450,"P":3950,"O":1600},
      {"t":2150,"D":2700,"A":4300,"P":3850,"O":2300},
      {"t":2170,"D":2550,"A":4350,"P":3600,"O":1400},
      {"t":2190,"D":2800,"A":4200,"P":3500,"O":1850},
      {"t":2210,"D":2400,"A":4250,"P":3400,"O":1200},
      {"t":2230,"D":2450,"A":4050,"P":3150,"O":2100},
      {"t":2250,"D":2300,"A":4000,"P":3050,"O":1500},
      {"t":2270,"D":1650,"A":3900,"P":2900,"O":1800},
      {"t":2290,"D":2100,"A":3950,"P":2850,"O":1300},
      {"t":2310,"D":2200,"A":3850,"P":2950,"O":2000},
      {"t":2330,"D":2550,"A":3750,"P":2700,"O":1600},
      {"t":2350,"D":2250,"A":3700,"P":2400,"O":750},
      {"t":2370,"D":2100,"A":3550,"P":2250,"O":1500},
      {"t":2390,"D":2300,"A":3600,"P":2100,"O":1700},
      {"t":2410,"D":1950,"A":3400,"P":2200,"O":1200},
      {"t":2430,"D":1850,"A":3300,"P":2000,"O":750},
      {"t":2450,"D":2000,"A":3250,"P":2150,"O":1650},
      {"t":2470,"D":1800,"A":3150,"P":2050,"O":1400},
      {"t":2490,"D":1950,"A":3100,"P":2200,"O":1900},
      {"t":2510,"D":2150,"A":3350,"P":1950,"O":750},
      {"t":2530,"D":2200,"A":3650,"P":2500,"O":1800},
      {"t":2550,"D":3400,"A":3200,"P":2700,"O":3200},
      {"t":2570,"D":3350,"A":3350,"P":2450,"O":1700},
      {"t":2590,"D":2400,"A":3150,"P":2650,"O":2300},
      {"t":2610,"D":3150,"A":3300,"P":2900,"O":1800},
      {"t":2630,"D":3000,"A":3250,"P":3000,"O":2500},
      {"t":2650,"D":2900,"A":3400,"P":3200,"O":1700},
      {"t":2670,"D":2850,"A":3200,"P":3050,"O":2200},
      {"t":2690,"D":3000,"A":3350,"P":3300,"O":1800},
      {"t":2710,"D":2800,"A":3450,"P":3250,"O":2800},
      {"t":2730,"D":2950,"A":3350,"P":3400,"O":1900},
      {"t":2750,"D":3400,"A":3500,"P":3900,"O":4000},
      {"t":2770,"D":4250,"A":3750,"P":3650,"O":2000},
      {"t":2790,"D":4100,"A":3600,"P":3700,"O":2500},
      {"t":2810,"D":3100,"A":3500,"P":3800,"O":1800},
      {"t":2830,"D":3000,"A":3550,"P":3550,"O":1000},
      {"t":2850,"D":2600,"A":3400,"P":3350,"O":1500},
      {"t":2870,"D":2550,"A":3500,"P":3150,"O":800},
      {"t":2890,"D":2350,"A":3450,"P":3050,"O":1400},
      {"t":2910,"D":2500,"A":3200,"P":3000,"O":550},
      {"t":2930,"D":1800,"A":3100,"P":2750,"O":1300},
      {"t":2950,"D":1750,"A":3150,"P":2650,"O":1000},
      {"t":2970,"D":1900,"A":3050,"P":2550,"O":1600},
      {"t":2990,"D":1800,"A":3100,"P":2400,"O":1100},
      {"t":3010,"D":2000,"A":3150,"P":2350,"O":1700},
      {"t":3030,"D":2100,"A":3050,"P":2100,"O":900},
      {"t":3050,"D":2050,"A":3150,"P":2000,"O":1500},
      {"t":3070,"D":1850,"A":3100,"P":2150,"O":1200},
      {"t":3090,"D":2050,"A":3150,"P":2250,"O":1800},
      {"t":3110,"D":1900,"A":3050,"P":2100,"O":1000},
      {"t":3130,"D":2100,"A":3200,"P":2300,"O":1600},
      {"t":3150,"D":2000,"A":3100,"P":2000,"O":1150},
      {"t":3170,"D":2000,"A":3150,"P":1900,"O":1500},
      {"t":3190,"D":1700,"A":2950,"P":1950,"O":900},
      {"t":3210,"D":1750,"A":3000,"P":1850,"O":1700},
      {"t":3230,"D":1950,"A":2850,"P":2000,"O":650},
      {"t":3250,"D":1800,"A":2900,"P":1800,"O":1400},
      {"t":3270,"D":1700,"A":2700,"P":1750,"O":1100},
      {"t":3290,"D":1900,"A":2650,"P":1850,"O":1750},
      {"t":3310,"D":1650,"A":2700,"P":1900,"O":1000},
      {"t":3330,"D":1750,"A":2600,"P":1750,"O":650},
      {"t":3350,"D":1600,"A":2700,"P":1850,"O":1500},
      {"t":3370,"D":1800,"A":2650,"P":1550,"O":1200},
      {"t":3390,"D":1650,"A":2600,"P":1500,"O":1600},
      {"t":3410,"D":1450,"A":2700,"P":1600,"O":650},
      {"t":3430,"D":1700,"A":2650,"P":1450,"O":1400},
      {"t":3450,"D":2100,"A":2800,"P":1650,"O":1000},
      {"t":3470,"D":1900,"A":2550,"P":1700,"O":1300},
      {"t":3490,"D":2000,"A":2450,"P":1600,"O":700},
      {"t":3500,"D":1900,"A":2500,"P":1650,"O":300}
    ]
  },
  "spacing": 69,
  "bounds": "flush",
  "resolve": {"scale": {"color": "independent"}, "legend": {"color": "independent"}},
  "vconcat": [
    {
      "width": 1227,
      "height": 380,
      "layer": [
        {
          "data": {"name": "ttft"},
          "transform": [{"fold": ["D", "A", "P", "O"], "as": ["s", "v"]}],
          "mark": {"type": "line", "clip": true},
          "encoding": {
            "x": {"field": "t", "type": "quantitative", "scale": {"domain": [10, 3500], "nice": false, "zero": false},
                  "axis": {"values": [500, 1000, 1500, 2000, 2500, 3000, 3500], "labels": false, "title": null}},
            "y": {"field": "v", "type": "quantitative", "scale": {"domain": [0, 3.12], "nice": false},
                  "axis": {"values": [0, 1, 2, 3], "title": "P99 TTFT (s)", "titleX": -88, "titleY": 190, "titleBaseline": "alphabetic"}},
            "color": {
              "field": "s", "type": "nominal",
              "scale": {"domain": ["D", "A", "P", "O"], "range": ["#1f77b4", "#ff7f0e", "#d62728", "#2ca02c"]},
              "legend": {
                "orient": "none", "legendX": 21.5, "legendY": 19, "columns": 2, "title": null,
                "symbolType": "M-1,0L3,0", "symbolSize": 1764, "symbolStrokeWidth": 3.3, "symbolOpacity": 0.7,
                "labelFont": "DejaVu Sans", "labelFontSize": 40, "labelColor": "#000000", "labelOffset": 73.5, "labelLimit": 800,
                "columnPadding": 85, "rowPadding": 17, "padding": 13,
                "fillColor": "rgba(255,255,255,0.8)", "strokeColor": "#d0d0d0", "cornerRadius": 8,
                "labelExpr": "datum.label == 'D' ? 'DynamoLLM' : datum.label == 'P' ? 'Production Stack' : datum.label == 'A' ? 'AIBrix' : 'OpScale'"
              }
            }
          }
        },
        {
          "data": {"values": [{}]},
          "mark": {"type": "rule", "color": "#ff0000", "strokeWidth": 6, "strokeDash": [24, 12]},
          "encoding": {"y": {"datum": 1}}
        },
        {
          "data": {"values": [{}]},
          "mark": {"type": "text", "color": "#ff0000", "fontSize": 34, "font": "DejaVu Sans", "align": "left", "baseline": "alphabetic"},
          "encoding": {"x": {"datum": 2800}, "y": {"datum": 1.3}, "text": {"datum": "TTFT SLO (1.0s)"}}
        }
      ]
    },
    {
      "width": 1227,
      "height": 380,
      "data": {"name": "gpu"},
      "transform": [{"fold": ["D", "A", "P", "O"], "as": ["s", "v"]}],
      "mark": {"type": "line", "interpolate": "step-after", "clip": true},
      "encoding": {
        "x": {"field": "t", "type": "quantitative", "scale": {"domain": [10, 3500], "nice": false, "zero": false},
              "axis": {"values": [500, 1000, 1500, 2000, 2500, 3000, 3500], "labels": false, "title": null}},
        "y": {"field": "v", "type": "quantitative", "scale": {"domain": [0, 24.1], "nice": false},
              "axis": {"values": [0, 5, 10, 15, 20], "title": "Number of GPUs", "titleX": -88, "titleY": 190, "titleBaseline": "alphabetic"}},
        "color": {
          "field": "s", "type": "nominal",
          "scale": {"domain": ["D", "A", "P", "O"], "range": ["#1f77b4", "#ff7f0e", "#d62728", "#2ca02c"]},
          "legend": null
        }
      }
    },
    {
      "width": 1227,
      "height": 380,
      "data": {"name": "power"},
      "transform": [{"fold": ["D", "A", "P", "O"], "as": ["s", "v"]}],
      "mark": {"type": "line", "clip": true},
      "encoding": {
        "x": {"field": "t", "type": "quantitative", "scale": {"domain": [10, 3500], "nice": false, "zero": false},
              "axis": {"values": [500, 1000, 1500, 2000, 2500, 3000, 3500], "title": "Time (seconds)", "titleY": 101, "titleBaseline": "alphabetic"}},
        "y": {"field": "v", "type": "quantitative", "scale": {"domain": [0, 6050], "nice": false},
              "axis": {"values": [0, 2000, 4000, 6000], "labelExpr": "datum.value / 1000 + 'K'", "title": "Total Power (W)", "titleX": -88, "titleY": 190, "titleBaseline": "alphabetic"}},
        "color": {
          "field": "s", "type": "nominal",
          "scale": {"domain": ["D", "A", "P", "O"], "range": ["#1f77b4", "#ff7f0e", "#d62728", "#2ca02c"]},
          "legend": null
        }
      }
    }
  ]
}
